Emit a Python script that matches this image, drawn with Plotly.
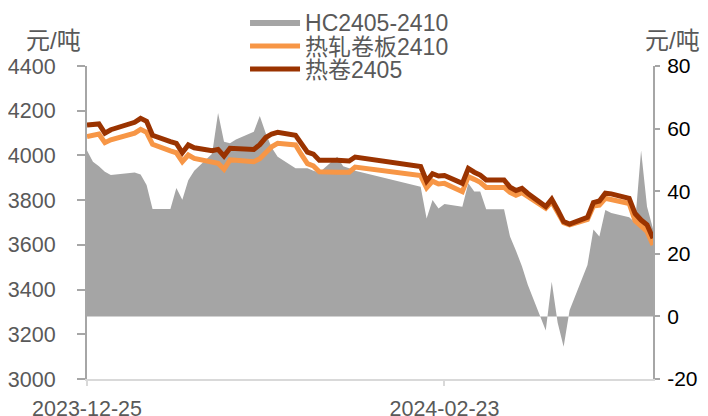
import plotly.graph_objects as go

dates = [
    "2023-12-25", "2023-12-26", "2023-12-27", "2023-12-28", "2023-12-29",
    "2024-01-02", "2024-01-03", "2024-01-04", "2024-01-05",
    "2024-01-08", "2024-01-09", "2024-01-10", "2024-01-11", "2024-01-12",
    "2024-01-15", "2024-01-16", "2024-01-17", "2024-01-18", "2024-01-19",
    "2024-01-22", "2024-01-23", "2024-01-24", "2024-01-25", "2024-01-26",
    "2024-01-29", "2024-01-30", "2024-01-31", "2024-02-01", "2024-02-02",
    "2024-02-05", "2024-02-06", "2024-02-07", "2024-02-08",
    "2024-02-19", "2024-02-20", "2024-02-21", "2024-02-22", "2024-02-23",
    "2024-02-26", "2024-02-27", "2024-02-28", "2024-02-29", "2024-03-01",
    "2024-03-04", "2024-03-05", "2024-03-06", "2024-03-07", "2024-03-08",
    "2024-03-11", "2024-03-12", "2024-03-13", "2024-03-14", "2024-03-15",
    "2024-03-18", "2024-03-19", "2024-03-20", "2024-03-21", "2024-03-22",
    "2024-03-25", "2024-03-26", "2024-03-27", "2024-03-28", "2024-03-29",
]

spread = [
    53, 49.4, 48, 46.2, 45.2, 46, 45.3, 42, 34.3, 34.3,
    41, 37.3, 43.5, 46.5, 52, 65, 55.8, 55.3, 56.5, 59,
    64, 58.5, 54, 51, 47.3, 47.3, 47.3, 46.5, 46, 51,
    48, 47.3, 46.5, 41.4, 31.3, 37.2, 34.5, 35.9, 35, 42.5,
    39.9, 39.9, 34.2, 34.2, 25.5, 21, 16, 10, -4.5, 11.1,
    -2, -9.7, 2, 16.4, 27.8, 25.5, 34, 33, 31.7, 30,
    53, 35, 28,
]

hc2410 = [
    4084, 4090, 4096, 4057, 4070, 4100, 4117, 4103, 4050, 4020,
    4012, 3972, 4002, 3987, 3968, 3965, 3938, 3980, 3978, 3972,
    3985, 4015, 4039, 4054, 4047, 4003, 3963, 3953, 3927, 3925,
    3925, 3925, 3948, 3910, 3855, 3885, 3872, 3875, 3838, 3905,
    3893, 3880, 3857, 3857, 3835, 3822, 3833, 3815, 3764, 3793,
    3748, 3699, 3689, 3714, 3774, 3778, 3808, 3803, 3785, 3708,
    3680, 3660, 3599,
]

hc2405 = [
    4136, 4139, 4141, 4100, 4115, 4148, 4166, 4153, 4090, 4062,
    4054, 4012, 4047, 4034, 4021, 4027, 3997, 4032, 4031, 4027,
    4048, 4080, 4096, 4103, 4090, 4050, 4015, 4006, 3978, 3978,
    3976, 3975, 3993, 3950, 3885, 3918, 3908, 3910, 3875, 3942,
    3925, 3912, 3890, 3890, 3858, 3843, 3853, 3830, 3771, 3804,
    3756, 3704, 3693, 3723, 3789, 3796, 3831, 3828, 3808, 3740,
    3711, 3690, 3629,
]

x_ticks = ["2023-12-25", "2024-02-23"]
right_tick_vals = [-20, 0, 20, 40, 60, 80]
right_tick_text = ["-20", "0", "20", "40", "60", "80"]

FONT = "Arial, 'Liberation Sans', 'Noto Sans CJK SC', sans-serif"
GREY_TXT = "#595959"
TICK_SIZE = 21.5
LEG_SIZE = 23

fig = go.Figure()
fig.add_trace(go.Scatter(
    x=dates, y=spread, name="HC2405-2410", mode="lines",
    fill="tozeroy", fillcolor="#A5A5A5", line=dict(width=0, color="#A5A5A5"),
    yaxis="y", legend="legend",
))
fig.add_trace(go.Scatter(
    x=dates, y=hc2410, name="热轧卷板2410", mode="lines",
    line=dict(width=5, color="#F79646"), yaxis="y2", legend="legend2",
))
fig.add_trace(go.Scatter(
    x=dates, y=hc2405, name="热卷2405", mode="lines",
    line=dict(width=5, color="#9A3300"), yaxis="y2", legend="legend3",
))


def leg(ypos):
    return dict(
        xref="container", yref="container",
        x=0.3386, y=ypos, xanchor="left", yanchor="middle",
        bgcolor="rgba(0,0,0,0)", font=dict(size=LEG_SIZE, color=GREY_TXT),
        itemwidth=50,
    )


fig.update_layout(
    width=700, height=408,
    margin=dict(l=79, r=55, t=58, b=37, autoexpand=False),
    paper_bgcolor="white", plot_bgcolor="white",
    font=dict(family=FONT, size=TICK_SIZE, color=GREY_TXT),
    showlegend=True,
    legend=leg(0.9657),
    legend2=leg(0.9069),
    legend3=leg(0.8505),
    xaxis=dict(
        type="date", range=["2023-12-25", "2024-03-29"],
        tickvals=x_ticks, ticktext=x_ticks, automargin=False,
        showgrid=False, zeroline=False,
        showline=True, linecolor="#D9D9D9", linewidth=2,
        ticks="outside", ticklen=5, tickcolor="#D9D9D9", tickwidth=2,
        tickfont=dict(size=TICK_SIZE, color=GREY_TXT),
        ticklabelstandoff=4,
    ),
    yaxis=dict(
        side="right", range=[-20, 80], automargin=False,
        tickvals=right_tick_vals, ticktext=right_tick_text,
        showgrid=False, zeroline=False,
        showline=True, linecolor="#A6A6A6", linewidth=2,
        ticks="outside", ticklen=5, tickcolor="#A6A6A6", tickwidth=2,
        tickfont=dict(size=21, color="#000000"),
        ticklabelstandoff=3,
    ),
    yaxis2=dict(
        side="left", overlaying="y", range=[3000, 4400], dtick=200,
        automargin=False,
        showgrid=False, zeroline=False,
        showline=True, linecolor="#A6A6A6", linewidth=2,
        ticks="outside", ticklen=8, tickcolor="#A6A6A6", tickwidth=2,
        tickfont=dict(size=TICK_SIZE, color=GREY_TXT),
        ticklabelstandoff=17,
    ),
    annotations=[
        dict(text="元/吨", xref="paper", yref="paper", x=-0.060, y=1.083,
             xanchor="center", yanchor="middle", showarrow=False,
             font=dict(size=24, color=GREY_TXT)),
        dict(text="元/吨", xref="paper", yref="paper", x=1.0336, y=1.083,
             xanchor="center", yanchor="middle", showarrow=False,
             font=dict(size=24, color=GREY_TXT)),
    ],
)

fig.write_html("out.html")
